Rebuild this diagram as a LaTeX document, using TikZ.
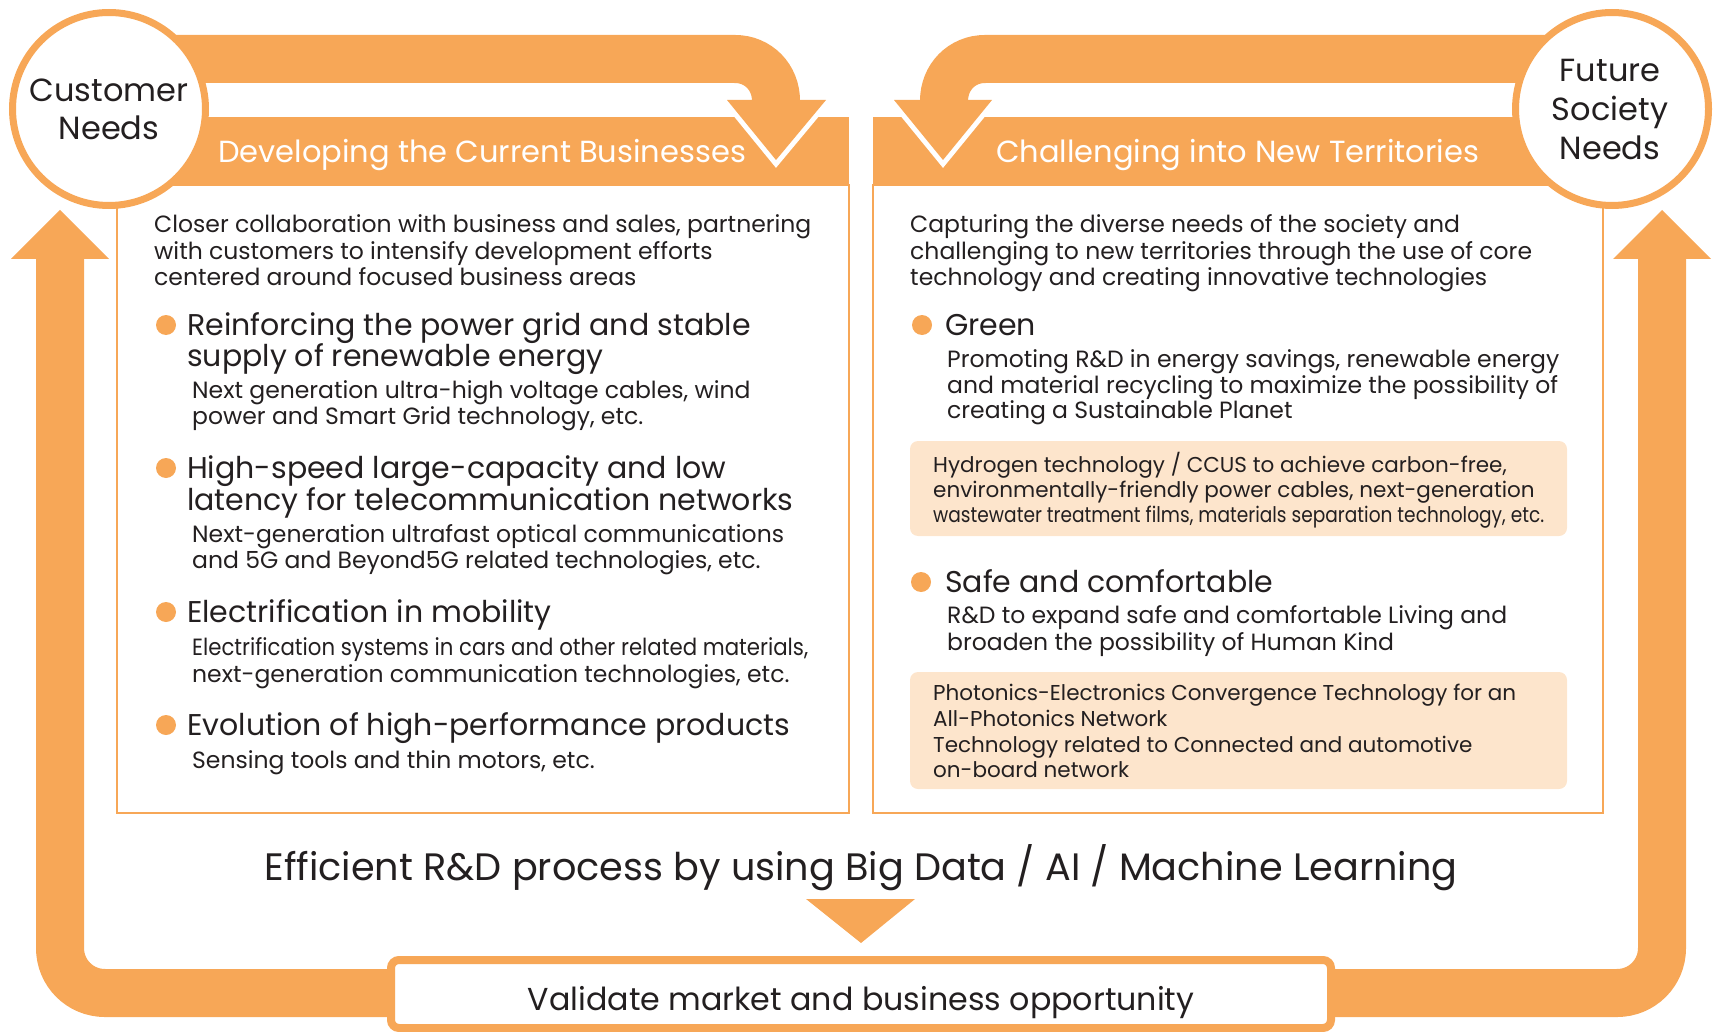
\documentclass[tikz,border=0pt]{standalone}
\usepackage{fontspec}
\setmainfont{Poppins}
\definecolor{org}{HTML}{F7A757}
\definecolor{peach}{HTML}{FDE5CC}
\definecolor{ink}{HTML}{231F20}
\begin{document}
\begin{tikzpicture}[x=1pt,y=-1pt,
  band/.style={draw=org,line width=48pt},
  txt/.style={inner sep=0pt,text=ink,anchor=base west},
  body/.style={txt,font=\fontsize{23.5}{27}\selectfont},
  head/.style={txt,font=\fontsize{30}{34}\selectfont},
  ptxt/.style={txt,font=\fontsize{21.5}{25}\selectfont},
  hdr/.style={inner sep=0pt,text=white,anchor=base west,font=\fontsize{30.5}{36}\selectfont},
  ctxt/.style={inner sep=0pt,text=ink,anchor=base,font=\fontsize{32}{38}\selectfont},
  circ/.style={circle,draw=org,line width=7pt,fill=white,minimum size=193pt,inner sep=0pt},
  bullet/.style={circle,fill=org,minimum size=20pt,inner sep=0pt},
  pbox/.style={fill=peach,rounded corners=8pt},
  cbox/.style={draw=org,line width=2pt},
  arrowtip/.style={fill=org},
  tipedge/.style={draw=white,line width=10pt,line join=miter}
]
\useasboundingbox (0,0) rectangle (1715,1032);
% header bars
\fill[org] (150,117) rectangle (849,185);
\fill[org] (873,117) rectangle (1650,185);
% content boxes
\draw[cbox] (117,185) rectangle (849,813);
\draw[cbox] (873,185) rectangle (1603,813);
% top bands
\draw[band] (150,59) -- (735,59) .. controls (758,59) and (776,77) .. (776,101);
\draw[tipedge] (727,100) -- (776,160) -- (826,100);
\fill[arrowtip] (727,100) -- (826,100) -- (776,160) -- cycle;
\draw[band] (1570,59) -- (985,59) .. controls (962,59) and (944,77) .. (944,101);
\draw[tipedge] (894,100) -- (943,160) -- (992,100);
\fill[arrowtip] (894,100) -- (992,100) -- (943,160) -- cycle;
% side bands
\draw[band] (60,258) -- (60,948) .. controls (60,973) and (80,993) .. (105,993) -- (420,993);
\fill[arrowtip] (11,259) -- (109,259) -- (60,210) -- cycle;
\draw[band] (1662,258) -- (1662,948) .. controls (1662,973) and (1642,993) .. (1617,993) -- (1300,993);
\fill[arrowtip] (1613,259) -- (1711,259) -- (1662,210) -- cycle;
% middle
\node[txt,anchor=base,font=\fontsize{38.2}{44}\selectfont] (eff) at (861,880) {Efficient R\&D process by using Big Data / AI / Machine Learning};
\fill[arrowtip] (806,899) -- (915,899) -- (861,943) -- cycle;
\draw[draw=org,line width=8pt,fill=white,rounded corners=8pt] (391,960) rectangle (1331,1028);
\node[txt,anchor=base,font=\fontsize{31.7}{38}\selectfont] (val) at (861,1010) {Validate market and business opportunity};
% circles
\node[circ] (cn) at (109,109) {};
\node[ctxt] (cn1) at (109,102) {Customer};
\node[ctxt] (cn2) at (109,140) {Needs};
\node[circ] (fs) at (1612,109) {};
\node[ctxt] (fs1) at (1610,82) {Future};
\node[ctxt] (fs2) at (1610,121) {Society};
\node[ctxt] (fs3) at (1610,160) {Needs};
% headers text
\node[hdr] (h1) at (218,163) {Developing the Current Businesses};
\node[hdr] (h2) at (996,163) {Challenging into New Territories};
% left column
\node[body] (l1) at (154,233) {Closer collaboration with business and sales, partnering};
\node[body] (l2) at (154,259) {with customers to intensify development efforts};
\node[body] (l3) at (154,286) {centered around focused business areas};
\node[bullet] (b1) at (166,325) {};
\node[head] (a1) at (187,335) {Reinforcing the power grid and stable};
\node[head] (a2) at (187,366) {supply of renewable energy};
\node[body] (a3) at (192,398) {Next generation ultra-high voltage cables, wind};
\node[body] (a4) at (192,424) {power and Smart Grid technology, etc.};
\node[bullet] (b2) at (166,468) {};
\node[head] (c1) at (187,478) {High-speed large-capacity and low};
\node[head] (c2) at (187,510) {latency for telecommunication networks};
\node[body] (c3) at (192,542) {Next-generation ultrafast optical communications};
\node[body] (c4) at (192,568) {and 5G and Beyond5G related technologies, etc.};
\node[bullet] (b3) at (166,612) {};
\node[head] (d1) at (187,622) {Electrification in mobility};
\node[body] (d2) at (192,655) {\resizebox{616pt}{\height}{Electrification systems in cars and other related materials,}};
\node[body] (d3) at (192,682) {next-generation communication technologies, etc.};
\node[bullet] (b4) at (166,725) {};
\node[head] (e1) at (187,735) {Evolution of high-performance products};
\node[body] (e2) at (192,768) {Sensing tools and thin motors, etc.};
% right column
\node[body] (r1) at (910,233) {Capturing the diverse needs of the society and};
\node[body] (r2) at (910,259) {challenging to new territories through the use of core};
\node[body] (r3) at (910,286) {technology and creating innovative technologies};
\node[bullet] (b5) at (922,325) {};
\node[head] (g1) at (945,335) {Green};
\node[body] (g2) at (947,367) {Promoting R\&D in energy savings, renewable energy};
\node[body] (g3) at (947,393) {and material recycling to maximize the possibility of};
\node[body] (g4) at (947,418) {creating a Sustainable Planet};
\fill[pbox] (910,441) rectangle (1567,536);
\node[ptxt] (p1) at (933,472) {Hydrogen technology / CCUS to achieve carbon-free,};
\node[ptxt] (p2) at (933,497) {environmentally-friendly power cables, next-generation};
\node[ptxt] (p3) at (933,522) {\resizebox{611pt}{\height}{wastewater treatment films, materials separation technology, etc.}};
\node[bullet] (b6) at (921,582) {};
\node[head] (s1) at (945,592) {Safe and comfortable};
\node[body] (s2) at (947,623) {R\&D to expand safe and comfortable Living and};
\node[body] (s3) at (947,650) {broaden the possibility of Human Kind};
\fill[pbox] (910,672) rectangle (1567,789);
\node[ptxt] (q1) at (933,700) {Photonics-Electronics Convergence Technology for an};
\node[ptxt] (q2) at (933,726) {All-Photonics Network};
\node[ptxt] (q3) at (933,752) {Technology related to Connected and automotive};
\node[ptxt] (q4) at (933,777) {on-board network};
\end{tikzpicture}
\end{document}
